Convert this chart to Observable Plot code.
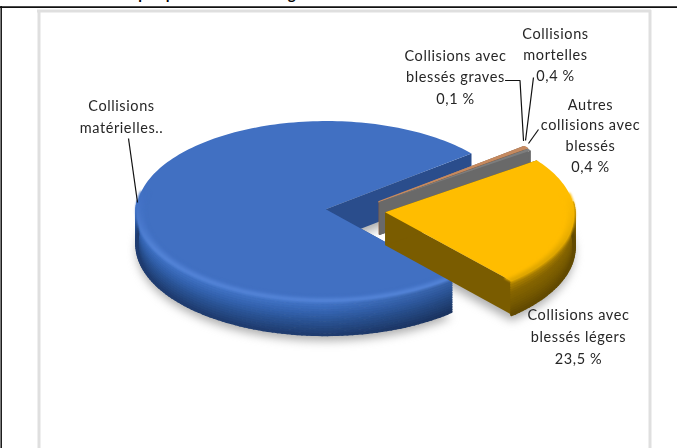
<!DOCTYPE html>
<html><head><meta charset="utf-8">
<script src="https://cdn.jsdelivr.net/npm/d3@7"></script>
<script src="https://cdn.jsdelivr.net/npm/@observablehq/plot@0.6"></script>
<style>html,body{margin:0;padding:0;background:#fff}svg{display:block}</style>
</head><body><div id="chart"></div>
<script>
// Data
const categories = ["Collisions matérielles", "Collisions avec blessés graves", "Collisions mortelles", "Autres collisions avec blessés", "Collisions avec blessés légers"];
const values = [75.6, 0.1, 0.4, 0.4, 23.5];
const valueLabels = ["", "0,1 %", "0,4 %", "0,4 %", "23,5 %"];
const nameLabels = ["Collisions\nmatérielles..", "Collisions avec\nblessés graves", "Collisions\nmortelles", "Autres\ncollisions avec\nblessés", "Collisions avec\nblessés légers"];
const title = "Graphique 1 : Pourcentages des collisions";

// Style and layout
const topColors = ["#4170c2", "#b98a6c", "#c58a60", "#7d7d7d", "#ffbd00"];
const rimColors = [["#4678cc", "#3463b0", "#28508f", "#1f3c70"], ["#a87650", "#8a5f40", "#7a5238", "#6a4730"], ["#a87650", "#8a5f40", "#7a5238", "#6a4730"], ["#6c6c6c", "#666", "#606060", "#595959"], ["#b88a00", "#866500", "#775a00", "#624a00"]];
const faceColors = ["#2a4d8c", "#8a5f40", "#8a5f40", "#696969", "#7a5c00"];
const bevelColors = ["#5585d8", "#b98a6c", "#c58a60", "#7d7d7d", "#dba400"];
const labelX = [121, 455, 555, 590, 578];
const labelY = [132, 103, 80, 171, 363];   // y of each label's last line
const lineHeights = [1.5, 1.45, 1.42, 1.42, 1.5];
const leaderX1 = [128, 533, 538];
const leaderY1 = [138, 77, 129];
const leaderX2 = [137, 525, 528];
const leaderY2 = [202, 140, 143];
const gravesX = [505, 519.5, 523];
const gravesY = [80, 80, 140];
const W = 677, H = 448, CX = 355, CY = 210, RX = 189, RY = 90, DEPTH = 33, PERSP = 0.02, EXPLODE = 0.158, START = 139;
const LEVELS = 14, BEVEL = 6;

const rad = d => d * Math.PI / 180;
function project(U, V, z = 0) {
  const s = 1 / (1 - PERSP * V);
  return [CX + RX * U * s, CY + RY * V * s + z * DEPTH * s];
}
const arcs = d3.pie().sort(null).startAngle(rad(START)).endAngle(rad(START + 360))(values);
const slices = arcs.map((a, i) => {
  const mid = (a.startAngle + a.endAngle) / 2;
  return {i, a0: a.startAngle, a1: a.endAngle, ox: EXPLODE * Math.sin(mid), oy: -EXPLODE * Math.cos(mid)};
});
const pt = (s, ang, r, z) => project(s.ox + r * Math.sin(ang), s.oy - r * Math.cos(ang), z);
const arcAngles = s => {
  const n = Math.max(1, Math.ceil((s.a1 - s.a0) / rad(1.5)));
  return d3.range(n + 1).map(k => s.a0 + (s.a1 - s.a0) * k / n);
};
const shade = (colors, t) => d3.piecewise(d3.interpolateRgb, colors)(t);
const poly = (s, points, key) => points.map(([x, y]) => ({x, y, key: s.i + key, cat: categories[s.i]}));
const faceFor = (s, ang) => [pt(s, ang, 0, 0), pt(s, ang, 1, 0), pt(s, ang, 1, 1), pt(s, ang, 0, 1)];

const layers = slices.map(s => {
  const angs = arcAngles(s);
  const top = [pt(s, s.a0, 0, 0), ...angs.map(a => pt(s, a, 1, 0))];
  const bottom = [pt(s, s.a0, 0, 1), ...angs.map(a => pt(s, a, 1, 1))];
  const rim = [];
  for (let l = 0; l <= LEVELS; l++) {
    const t = l / LEVELS;
    for (let k = 0; k + 1 < angs.length; k++) {
      const am = (angs[k] + angs[k + 1]) / 2;
      if (-Math.cos(am) < -0.1) continue;
      const [x1, y1] = pt(s, angs[k], 1, t), [x2, y2] = pt(s, angs[k + 1], 1, t);
      const dark = 1 - 0.22 * Math.max(0, Math.sin(am)) * (s.i === 0 ? 1 : 0);
      const c = d3.rgb(shade(rimColors[s.i], t));
      rim.push({x1, y1, x2, y2, c: d3.rgb(c.r * dark, c.g * dark, c.b * dark).formatHex()});
    }
  }
  const bevel = [];
  for (let l = 0; l < BEVEL; l++) {
    const f = l / (BEVEL - 1), r = 0.955 + 0.045 * f;
    for (let k = 0; k + 1 < angs.length; k++) {
      const am = (angs[k] + angs[k + 1]) / 2, front = -Math.cos(am);
      if (front < -0.2) continue;
      const amount = f * Math.min(1, (front + 0.2) * 1.6);
      const [x1, y1] = pt(s, angs[k], r, 0), [x2, y2] = pt(s, angs[k + 1], r, 0);
      bevel.push({x1, y1, x2, y2, c: d3.interpolateRgb(topColors[s.i], bevelColors[s.i])(amount)});
    }
  }
  return {s, top: poly(s, top, "t"), bottom: poly(s, bottom, "b"), rim, bevel,
    faceStart: poly(s, faceFor(s, s.a0), "fs"), faceEnd: poly(s, faceFor(s, s.a1), "fe")};
});

function sliceMarks(L) {
  const i = L.s.i;
  return [
    Plot.line(L.faceEnd, {x: "x", y: "y", z: "key", fill: faceColors[i], stroke: "none"}),
    Plot.line(L.faceStart, {x: "x", y: "y", z: "key", fill: faceColors[i], stroke: "none"}),
    Plot.link(L.rim, {x1: "x1", y1: "y1", x2: "x2", y2: "y2", stroke: {value: d => d.c, scale: null}, strokeWidth: 3, strokeLinecap: "round", imageFilter: "blur(0.5px)"}),
    Plot.line(L.top, {x: "x", y: "y", z: "key", fill: "cat", stroke: i === 2 ? "cat" : "none", strokeWidth: 1.5}),
    Plot.link(L.bevel, {x1: "x1", y1: "y1", x2: "x2", y2: "y2", stroke: {value: d => d.c, scale: null}, strokeWidth: 2, strokeLinecap: "round", imageFilter: "blur(0.8px)"})
  ];
}

const labelRows = categories.map((c, i) => ({name: nameLabels[i] + (valueLabels[i] ? "\n" + valueLabels[i] : ""), x: labelX[i], y: labelY[i], lh: lineHeights[i]}));
const leaders = leaderX1.map((x, i) => ({x1: x, y1: leaderY1[i], x2: leaderX2[i], y2: leaderY2[i]}));
const graves = gravesX.map((x, i) => ({x, y: gravesY[i]}));
const font = "Lato, 'Open Sans', sans-serif";

const plot = Plot.plot({
  width: W, height: H, margin: 0,
  x: {domain: [0, W], range: [0, W], axis: null},
  y: {domain: [0, H], range: [0, H], axis: null},
  color: {type: "ordinal", domain: categories, range: topColors},
  style: {background: "#fff", letterSpacing: "0.6px"},
  marks: [
    // frame
    Plot.ruleX([38.5], {y1: 10, y2: H, stroke: "#dfdfdf", strokeWidth: 3}),
    Plot.ruleX([649.5], {y1: 10, y2: H, stroke: "#dfdfdf", strokeWidth: 3}),
    Plot.ruleY([10.5], {x1: 37, x2: 651, stroke: "#dfdfdf", strokeWidth: 3}),
    Plot.ruleY([6.6], {x1: 0, x2: W, stroke: "#111", strokeWidth: 1.7}),
    Plot.ruleX([0.7], {y1: 6, y2: H, stroke: "#111", strokeWidth: 1.5}),
    // title, cut off by the top of the picture as in the reference
    Plot.text([title], {x: () => 262, y: () => 0, text: d => d, lineAnchor: "bottom", dy: -2, fontFamily: font, fontWeight: "bold", fontSize: 15, fill: "#000", textAnchor: "middle"}),
    // soft shadows
    ...[layers[0], layers[4]].map(L => Plot.line(L.bottom, {x: "x", y: d => d.y + 6, z: "key", fill: "#8c8c8c", fillOpacity: 0.7, stroke: "none", imageFilter: "blur(5px)"})),
    // slices, back to front
    ...layers.flatMap(sliceMarks),
    // leaders and labels
    Plot.link(leaders, {x1: "x1", y1: "y1", x2: "x2", y2: "y2", stroke: "#111", strokeWidth: 1.2}),
    Plot.line(graves, {x: "x", y: "y", stroke: "#111", strokeWidth: 1.2}),
    ...labelRows.map(r => Plot.text([r], {x: "x", y: "y", text: "name", lineAnchor: "bottom", lineHeight: r.lh, fontFamily: font, fontSize: 14.5, fill: "#262626", imageFilter: "blur(0.3px)"}))
  ]
});
document.getElementById("chart").append(plot);
</script></body></html>
